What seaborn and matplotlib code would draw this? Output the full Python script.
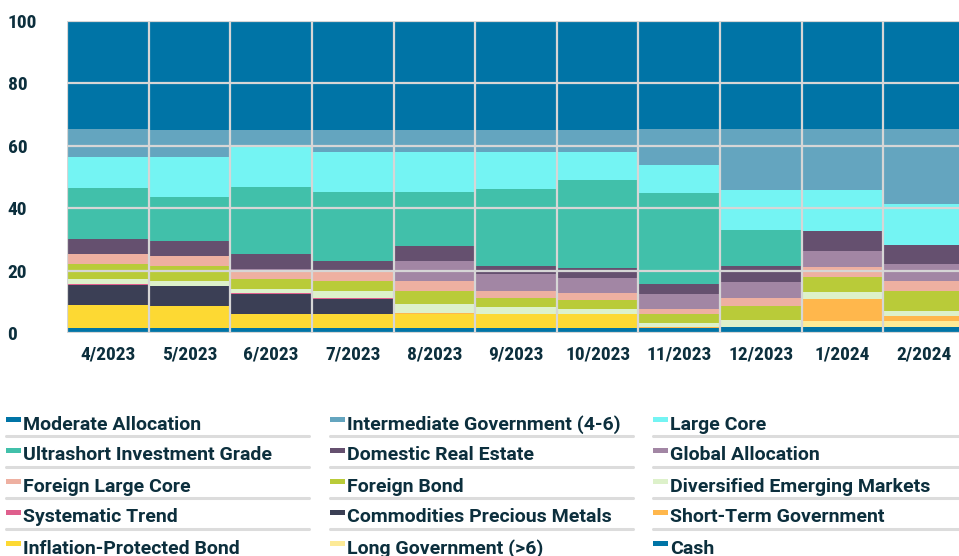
import numpy as np
import pandas as pd
import matplotlib.pyplot as plt
from matplotlib import font_manager as fm
from matplotlib.lines import Line2D
from matplotlib.patches import Rectangle
import seaborn as sns

# --- data (share of portfolio, %) ---
months = ["4/2023", "5/2023", "6/2023", "7/2023", "8/2023", "9/2023",
          "10/2023", "11/2023", "12/2023", "1/2024", "2/2024"]

# legend order = top of the stack first
categories = ["Moderate Allocation", "Intermediate Government (4-6)", "Large Core",
              "Ultrashort Investment Grade", "Domestic Real Estate", "Global Allocation",
              "Foreign Large Core", "Foreign Bond", "Diversified Emerging Markets",
              "Systematic Trend", "Commodities Precious Metals", "Short-Term Government",
              "Inflation-Protected Bond", "Long Government (>6)", "Cash"]

moderate_allocation = [34.7, 34.7, 34.7, 34.7, 34.7, 34.7, 34.7, 34.7, 34.7, 34.7, 34.7]
intermediate_gov = [8.8, 8.6, 5.6, 7.3, 7.3, 7.0, 7.0, 11.5, 19.5, 19.5, 23.9]
large_core = [9.9, 12.8, 12.9, 12.8, 12.8, 12.1, 9.05, 9.0, 12.8, 13.0, 13.0]
ultrashort = [16.25, 14.4, 21.25, 22.1, 17.2, 24.4, 28.15, 29.05, 11.5, 0.0, 0.0]
domestic_real_estate = [5.05, 4.8, 4.8, 2.9, 4.8, 2.85, 3.2, 3.2, 5.0, 6.4, 6.35]
global_allocation = [0.0, 0.0, 0.3, 0.0, 6.2, 5.15, 4.9, 4.75, 5.1, 5.1, 5.35]
foreign_large_core = [3.2, 3.1, 2.85, 3.5, 3.2, 2.3, 2.35, 1.6, 2.5, 3.2, 3.2]
foreign_bond = [4.75, 4.9, 3.2, 3.1, 4.2, 3.0, 2.85, 3.0, 4.65, 4.9, 6.4]
diversified_em = [1.6, 1.5, 1.4, 2.2, 3.0, 2.1, 1.6, 1.3, 2.35, 2.2, 1.6]
systematic_trend = [0.2, 0.0, 0.2, 0.2, 0.0, 0.0, 0.0, 0.0, 0.0, 0.0, 0.0]
commodities_pm = [6.5, 6.4, 6.4, 4.8, 0.0, 0.0, 0.0, 0.0, 0.0, 0.0, 0.0]
short_term_gov = [0.0, 0.0, 0.0, 0.0, 0.3, 0.0, 0.0, 0.3, 0.0, 7.1, 1.6]
inflation_protected = [7.45, 7.1, 4.7, 4.7, 4.6, 4.7, 4.5, 0.0, 0.0, 0.0, 0.0]
long_gov = [0.0, 0.0, 0.0, 0.0, 0.0, 0.0, 0.0, 0.0, 0.0, 2.0, 1.8]
cash = [1.6, 1.6, 1.6, 1.6, 1.6, 1.6, 1.6, 1.6, 1.9, 1.9, 2.1]

series = [moderate_allocation, intermediate_gov, large_core, ultrashort,
          domestic_real_estate, global_allocation, foreign_large_core, foreign_bond,
          diversified_em, systematic_trend, commodities_pm, short_term_gov,
          inflation_protected, long_gov, cash]

colors = ["#0074a6", "#64a5bf", "#74f4f3", "#41c0aa", "#65506f", "#a286a4",
          "#eeb0a1", "#b9cb39", "#ddf1ca", "#df5f8d", "#3b3f55", "#ffb74c",
          "#fdd933", "#fdea97", "#0074a6"]

df = pd.DataFrame(dict(zip(categories, series)), index=months)

text_color = "#0c2f3d"
grid_color = "#d6d6d6"

# pick a narrow bold face for the tick labels if one is installed
def pick_font():
    for fam in ["Liberation Sans Narrow", "Roboto Condensed", "Arial Narrow", "Lato", "Roboto"]:
        try:
            fm.findfont(fm.FontProperties(family=fam, weight="bold"), fallback_to_default=False)
            return fam
        except Exception:
            pass
    return "DejaVu Sans"

tick_font = pick_font()

sns.set_theme(style="white")
plt.rcParams['font.family'] = [tick_font, 'DejaVu Sans']
plt.rcParams['font.weight'] = 'bold'

W, H = 959, 556
fig = plt.figure(figsize=(W / 100, H / 100), dpi=100)
ax = fig.add_axes([67 / W, 1 - 333.3 / H, (965 - 67) / W, (333.3 - 21) / H])

# stacked bars, bottom layer first
bottom = np.zeros(len(months))
for name, col in zip(reversed(categories), reversed(colors)):
    vals = df[name].values
    sns.barplot(x=months, y=vals, bottom=bottom, color=col, saturation=1,
                width=1, errorbar=None, linewidth=0, ax=ax)
    bottom = bottom + vals

ax.set_xlim(-0.5, len(months) - 0.5)
ax.set_ylim(0, 100)
ax.set_xlabel("")
ax.set_ylabel("")
for s in ax.spines.values():
    s.set_visible(False)

ax.set_yticks(range(0, 101, 20))
ax.set_xticks(np.arange(-0.5, len(months)), minor=True)
ax.set_axisbelow(False)
ax.grid(axis="y", which="major", color=grid_color, linewidth=1.6)
ax.grid(axis="x", which="minor", color=grid_color, linewidth=1.6)
ax.grid(axis="x", which="major", visible=False)

ax.tick_params(axis="y", length=10.8, width=1.6, color=grid_color, pad=32,
               labelsize=14, labelcolor=text_color)
ax.tick_params(axis="x", which="major", length=0, pad=9, labelsize=14,
               labelcolor=text_color)
ax.tick_params(axis="x", which="minor", length=10, width=1.6, color=grid_color)
for lab in ax.get_yticklabels():
    lab.set_ha("left")
    lab.set_fontweight("bold")
for lab in ax.get_xticklabels():
    lab.set_fontweight("bold")

# legend: 3 columns with separators
col_x = [6, 330, 653]
col_end = [309, 633, 959]
for i, (name, col) in enumerate(zip(categories, colors)):
    r, c = divmod(i, 3)
    base = 429.5 + 31 * r
    fig.add_artist(Rectangle((col_x[c] / W, 1 - (base - 7.5) / H), 15 / W, 5 / H,
                             transform=fig.transFigure, facecolor=col, edgecolor="none"))
    fig.text((col_x[c] + 17) / W, 1 - base / H, name, fontsize=14, fontweight="bold",
             family=["Roboto", "DejaVu Sans"], color=text_color,
             ha="left", va="baseline")
    sep_y = 1 - (base + 6) / H
    fig.add_artist(Line2D([col_x[c] / W, col_end[c] / W], [sep_y, sep_y],
                          transform=fig.transFigure, color="#dcdcdc", linewidth=2.2))

fig.savefig("out.png", dpi=100)
